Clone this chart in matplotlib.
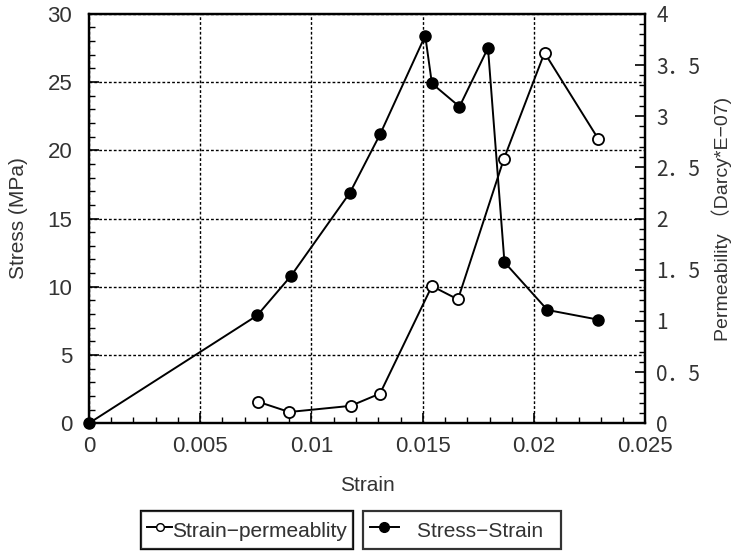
import matplotlib
matplotlib.use("Agg")
import matplotlib.pyplot as plt
from matplotlib.lines import Line2D
from matplotlib.ticker import MultipleLocator, FixedLocator

TEXT = '#333333'
plt.rcParams.update({'font.size': 15,
                     'font.family': ['Liberation Sans', 'Noto Sans CJK SC', 'DejaVu Sans'],
                     'text.color': TEXT, 'axes.labelcolor': TEXT,
                     'xtick.labelcolor': TEXT, 'ytick.labelcolor': TEXT,
                     'xtick.labelsize': 16, 'ytick.labelsize': 16})

# stress-strain curve (filled markers, left axis)
stress_strain = [0.0, 0.00756, 0.00908, 0.01173, 0.01309, 0.01511, 0.01541,
                 0.01665, 0.01793, 0.01867, 0.0206, 0.02286]
stress = [0.0, 7.9, 10.8, 16.9, 21.2, 28.4, 24.9, 23.2, 27.5, 11.8, 8.3, 7.6]

# strain-permeability curve (open markers, right axis)
perm_strain = [0.0076, 0.0090, 0.01176, 0.01308, 0.01541, 0.01658,
               0.01864, 0.02047, 0.02288]
permeability = [0.21, 0.11, 0.17, 0.29, 1.34, 1.21, 2.58, 3.62, 2.78]

x_ticks = [0, 0.005, 0.01, 0.015, 0.02, 0.025]
x_labels = ['0', '0.005', '0.01', '0.015', '0.02', '0.025']
perm_ticks = [0, 0.5, 1, 1.5, 2, 2.5, 3, 3.5, 4]
perm_labels = ['0', '0．5', '1', '1．5', '2', '2．5', '3', '3．5', '4']

fig = plt.figure(figsize=(7.35, 5.54), dpi=100)
ax = fig.add_axes([0.121, 0.236, 0.757, 0.739])
ax2 = ax.twinx()

ax.plot(stress_strain, stress, color='black', linewidth=1.4, marker='o',
        markersize=8, markerfacecolor='black', markeredgecolor='black',
        clip_on=False, zorder=5)
ax2.plot(perm_strain, permeability, color='black', linewidth=1.4, marker='o',
         markersize=8, markerfacecolor='white', markeredgecolor='black',
         markeredgewidth=1.3, zorder=5)

ax.set_xlim(0, 0.025)
ax.set_ylim(0, 30)
ax2.set_ylim(0, 4)

ax.xaxis.set_major_locator(FixedLocator(x_ticks))
ax.set_xticklabels(x_labels)
ax.xaxis.set_minor_locator(MultipleLocator(0.001))
ax.yaxis.set_major_locator(MultipleLocator(5))
ax.yaxis.set_minor_locator(MultipleLocator(1))
ax2.yaxis.set_major_locator(FixedLocator(perm_ticks))
ax2.set_yticklabels(perm_labels, family=['Noto Sans CJK SC', 'DejaVu Sans'], fontsize=15)
ax2.yaxis.set_minor_locator(MultipleLocator(0.1))

ax.tick_params(axis='both', which='major', direction='in', length=7, width=1.2)
ax.tick_params(axis='both', which='minor', direction='in', length=4, width=1)
ax.tick_params(axis='x', which='major', pad=9)
ax.tick_params(axis='y', which='major', pad=12)
ax2.tick_params(axis='y', which='major', direction='in', length=7, width=1.2, pad=8)
ax2.tick_params(axis='y', which='minor', direction='in', length=4, width=1)

for a in (ax, ax2):
    for s in a.spines.values():
        s.set_linewidth(1.6)

ax.grid(True, which='major', color='black', linestyle=(0, (2, 1.5)), linewidth=1)

ax.set_xlabel('Strain', labelpad=14)
ax.set_ylabel('Stress (MPa)', labelpad=14)
ax2.set_ylabel('Permeability （Darcy*E−07)', labelpad=8, fontsize=14)

h1 = Line2D([], [], color='black', marker='o', markerfacecolor='white',
            markersize=5.5, linewidth=1.4)
h2 = Line2D([], [], color='black', marker='o', markerfacecolor='black',
            markersize=7, linewidth=1.4)
leg1 = fig.legend([h1], ['Strain−permeablity'], loc='center', bbox_to_anchor=(0.336, 0.043),
                  fancybox=False, edgecolor='black', handlelength=1.2, handletextpad=0.0,
                  handleheight=1.5, borderpad=0.3, borderaxespad=0, fontsize=15)
leg1.get_frame().set_linewidth(1.6)
fig.add_artist(leg1)
leg2 = fig.legend([h2], ['Stress−Strain  '], loc='center', bbox_to_anchor=(0.629, 0.043),
                  fancybox=False, edgecolor='black', handlelength=1.4, handletextpad=0.9,
                  handleheight=1.5, borderpad=0.3, borderaxespad=0, fontsize=15)
leg2.get_frame().set_linewidth(1.6)

fig.savefig('out.png', dpi=100)
